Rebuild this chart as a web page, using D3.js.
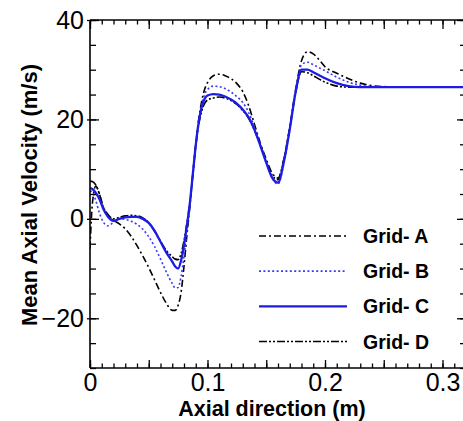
<!DOCTYPE html>
<html><head><meta charset="utf-8">
<script src="https://cdn.jsdelivr.net/npm/d3@7"></script>
<style>body{margin:0;background:#fff}svg{display:block}</style>
</head><body>
<svg id="c" width="463" height="421"></svg>
<script>
const seriesNames = ["Grid- A", "Grid- B", "Grid- C", "Grid- D"];
const axialPos = [0,0.002,0.005,0.008,0.011,0.015,0.02,0.025,0.03,0.035,0.04,0.045,0.05,0.055,0.06,0.065,0.07,0.0725,0.075,0.0775,0.08,0.0825,0.085,0.0875,0.09,0.0925,0.095,0.0975,0.1,0.105,0.11,0.115,0.12,0.125,0.13,0.135,0.14,0.145,0.15,0.155,0.16,0.165,0.17,0.175,0.18,0.185,0.19,0.195,0.2,0.21,0.22,0.23,0.24,0.25,0.27,0.29,0.32];
const gridA = [-6,3,6.6,5,2.6,0.6,-0.3,-1,-2,-3.5,-5.4,-7.5,-9.8,-12.3,-14.8,-17,-18.4,-18.4,-17.4,-14.8,-9.5,-3.2,2.5,9,15,20,23.6,26,27.4,28.8,29.1,28.8,28.2,27.2,25.6,22.8,19,15.2,12,9.2,8.2,12,18.5,26,31.8,33.6,33.2,32,30.6,29.3,28.2,27.3,26.8,26.6,26.5,26.5,26.5];
const gridB = [5.6,5.4,3.6,1.2,-0.5,-1.4,-0.7,0,-0.1,-0.5,-1.1,-2.1,-3.6,-5.6,-8.1,-10.7,-13,-13.9,-13.8,-11.6,-7.5,-2.5,2.8,9,15,19.8,23,25,26,26.7,26.6,26.2,25.5,24.6,23.4,21.4,18.4,15,11.5,8.3,7,11.2,18,25.6,31,31.5,31,30.4,29.8,28.5,27.5,26.9,26.6,26.5,26.5,26.5,26.5];
const gridC = [6.2,6,5.2,4,2.2,0.5,-0.4,0,0.3,0.4,0.4,0,-0.8,-2.4,-4.6,-6.8,-8.6,-9.6,-10,-8.4,-5.3,-1.3,3.2,9,14.8,19.4,22.4,24.1,24.8,25.1,25,24.6,24,23.2,22,20.4,17.9,14.7,11.3,8.3,7.3,11.5,18,25.5,30,30,29.5,28.9,28.3,27.3,26.7,26.5,26.5,26.5,26.5,26.5,26.5];
const gridD = [7.6,7.5,6.8,5,2.6,1,0,0.3,0.6,0.7,0.6,0.2,-0.8,-2.5,-4.5,-6.4,-7.6,-8.1,-8.2,-7,-4.4,-0.8,3.2,8.8,14.6,18.9,21.6,23.2,23.9,24.3,24.5,24.3,23.8,23,21.8,20.2,17.8,14.8,11.5,8.8,7.9,12,18.2,25.4,29.6,29.4,28.8,28.1,27.5,26.7,26.5,26.5,26.5,26.5,26.5,26.5,26.5];
const xTickLabels = [0, 0.1, 0.2, 0.3];
const yTickLabels = [-20, 0, 20, 40];

const svg = d3.select("#c");
const L = 90, R = 466, T = 20, B = 368;
const x = d3.scaleLinear().domain([0, 0.32]).range([L, R]);
const y = d3.scaleLinear().domain([-30, 40]).range([B, T]);
const FONT = "'Liberation Sans', Arial, sans-serif";

const styles = [
  {color:"#000", width:1.6, dash:"7,3,2,3"},
  {color:"#3a3aff", width:1.6, dash:"2,2.4"},
  {color:"#1c1ce6", width:2.3, dash:null},
  {color:"#000", width:1.6, dash:"8,2,2,2,2,2"}
];
const allSeries = [gridA, gridB, gridC, gridD];

svg.append("clipPath").attr("id","clip").append("rect")
  .attr("x", L).attr("y", T).attr("width", R-L).attr("height", B-T);

const line = d3.line().x((d,i)=>x(axialPos[i])).y(d=>y(d)).curve(d3.curveMonotoneX);
const g = svg.append("g").attr("clip-path","url(#clip)");
[0,3,1,2].forEach(k=>{
  g.append("path").datum(allSeries[k]).attr("d", line)
    .attr("fill","none").attr("stroke", styles[k].color)
    .attr("stroke-width", styles[k].width)
    .attr("stroke-dasharray", styles[k].dash)
    .attr("stroke-linejoin","round");
});

const frame = svg.append("g").attr("stroke","#000").attr("stroke-width",1.6).attr("fill","none");
frame.append("line").attr("x1",L).attr("x2",L).attr("y1",T).attr("y2",B);
frame.append("line").attr("x1",L).attr("x2",R).attr("y1",B).attr("y2",B);
frame.append("line").attr("x1",L).attr("x2",R).attr("y1",T).attr("y2",T);
frame.append("line").attr("x1",R).attr("x2",R).attr("y1",T).attr("y2",B);

const xMinor = d3.range(0, 0.3201, 0.01);
const xMajor = d3.range(0, 0.3201, 0.05);
const yMinor = d3.range(-30, 40.01, 5);
const yMajor = d3.range(-20, 40.01, 20);
function tickAxis(axisGen, tr){
  const a = svg.append("g").attr("transform", tr).call(axisGen);
  a.select(".domain").remove();
  a.selectAll("line").attr("stroke","#000").attr("stroke-width",1.3);
  return a;
}
tickAxis(d3.axisTop(x).tickValues(xMinor).tickSize(4.5).tickFormat(""), `translate(0,${B})`);
tickAxis(d3.axisTop(x).tickValues(xMajor).tickSize(8).tickFormat(""), `translate(0,${B})`);
tickAxis(d3.axisBottom(x).tickValues(xMinor).tickSize(4.5).tickFormat(""), `translate(0,${T})`);
tickAxis(d3.axisBottom(x).tickValues(xMajor).tickSize(9).tickFormat(""), `translate(0,${T})`);
tickAxis(d3.axisRight(y).tickValues(yMinor).tickSize(6).tickFormat(""), `translate(${L},0)`);
tickAxis(d3.axisRight(y).tickValues(yMajor).tickSize(9).tickFormat(""), `translate(${L},0)`);
tickAxis(d3.axisLeft(y).tickValues(yMinor).tickSize(6).tickFormat(""), `translate(${R},0)`);
tickAxis(d3.axisLeft(y).tickValues(yMajor).tickSize(9).tickFormat(""), `translate(${R},0)`);
tickAxis(d3.axisLeft(y).tickValues(yTickLabels).tickSize(3).tickFormat(""), `translate(${L},0)`);

const xl = d3.axisBottom(x).tickValues(xTickLabels).tickSize(0).tickPadding(5)
  .tickFormat(d=> d===0 ? "0" : d3.format(".1f")(d));
const xa = svg.append("g").attr("transform", `translate(0,${B})`).call(xl);
xa.select(".domain").remove();
xa.selectAll("text").attr("font-family",FONT).attr("font-size",25).attr("fill","#000");

const yl = d3.axisLeft(y).tickValues(yTickLabels).tickSize(0).tickPadding(6).tickFormat(d3.format("d"));
const ya = svg.append("g").attr("transform", `translate(${L},0)`).call(yl);
ya.select(".domain").remove();
ya.selectAll("text").attr("font-family",FONT).attr("font-size",25).attr("fill","#000");

svg.append("text").attr("x", 272).attr("y", 416).attr("text-anchor","middle")
  .attr("font-family",FONT).attr("font-weight","bold").attr("font-size",21.5)
  .text("Axial direction (m)");
svg.append("text").attr("transform","translate(37,195) rotate(-90)").attr("text-anchor","middle")
  .attr("font-family",FONT).attr("font-weight","bold").attr("font-size",22)
  .text("Mean Axial Velocity (m/s)");

const leg = svg.append("g");
const legY = d3.scalePoint().domain(seriesNames).range([236, 341.5]);
seriesNames.forEach((n,k)=>{
  const yy = legY(n);
  leg.append("line").attr("x1",259).attr("x2",347).attr("y1",yy).attr("y2",yy)
    .attr("stroke", styles[k].color).attr("stroke-width", styles[k].width)
    .attr("stroke-dasharray", styles[k].dash);
  leg.append("text").attr("x",363).attr("y",yy+7)
    .attr("font-family",FONT).attr("font-weight","bold").attr("font-size",19.5)
    .text(n);
});
</script>
</body></html>
